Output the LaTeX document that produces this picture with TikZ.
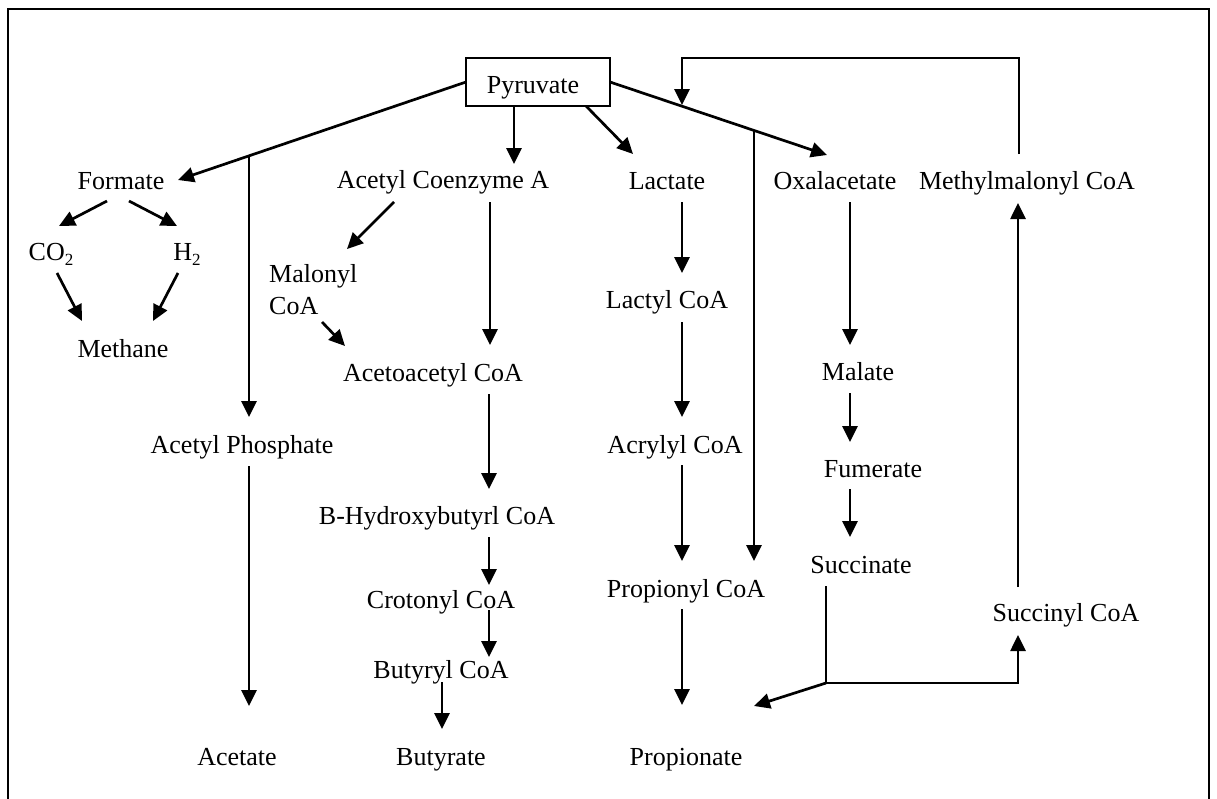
\documentclass[tikz,border=0pt]{standalone}
\usepackage{fontspec}
\setmainfont{Liberation Serif}
\usetikzlibrary{arrows.meta}
\newcommand{\subtwo}{\raisebox{-0.22em}{\fontsize{17}{17}\selectfont 2}}
\begin{document}
\begin{tikzpicture}[x=1pt,y=-1pt,
  lab/.style={inner sep=0pt,anchor=base,font=\fontsize{26}{32}\selectfont},
  con/.style={line width=2.7pt},
  arr/.style={line width=2.7pt,-{Triangle[length=16pt,width=15pt]}},
  frame/.style={line width=2.4pt}]
\useasboundingbox (0,0) rectangle (1217,798);
% outer frame (open at the bottom)
\draw[frame] (8,800) -- (8,9) -- (1209,9) -- (1209,800);
% nodes
\node[draw,line width=2pt,minimum width=144pt,minimum height=48pt,inner sep=0pt,
      font=\fontsize{26}{32}\selectfont] (pyr) at (538,82) {\raisebox{-11pt}[0pt][0pt]{\hspace*{-10pt}Pyruvate}};
\node[lab] (formate) at (121,189) {Formate};
\node[lab] (co2) at (51,260) {CO\subtwo};
\node[lab] (h2) at (187,260) {H\subtwo};
\node[lab] (methane) at (123,357) {Methane};
\node[lab] (acp) at (242,453) {Acetyl Phosphate};
\node[lab] (acetate) at (237,765) {Acetate};
\node[lab] (acoa) at (443,188) {Acetyl Coenzyme A};
\node[lab,anchor=west,align=left,font=\fontsize{26}{32}\selectfont] (malonyl) at (269,290) {Malonyl\\CoA};
\node[lab] (acac) at (433,381) {Acetoacetyl CoA};
\node[lab] (bhb) at (437,524) {B-Hydroxybutyrl CoA};
\node[lab] (crot) at (441,608) {Crotonyl CoA};
\node[lab] (buty) at (441,678) {Butyryl CoA};
\node[lab] (butyrate) at (441,765) {Butyrate};
\node[lab] (lactate) at (667,189) {Lactate};
\node[lab] (lactyl) at (667,308) {Lactyl CoA};
\node[lab] (acryl) at (675,453) {Acrylyl CoA};
\node[lab] (propcoa) at (686,597) {Propionyl CoA};
\node[lab] (propionate) at (686,765) {Propionate};
\node[lab] (oxal) at (835,189) {Oxalacetate};
\node[lab] (malate) at (858,380) {Malate};
\node[lab] (fum) at (873,477) {Fumerate};
\node[lab] (succ) at (861,573) {Succinate};
\node[lab] (succoa) at (1066,621) {Succinyl CoA};
\node[lab] (mmcoa) at (1027,189) {Methylmalonyl CoA};
% coordinates
\coordinate (pl) at (466,82);
\coordinate (pr) at (610,82);
\coordinate (jf) at (249,155);
\coordinate (jp) at (754,130);
\coordinate (fbtip) at (682,105);
\coordinate (js) at (826,683);
% Pyruvate branches
\draw[arr] (pl) -- (178,180);
\draw[arr] (jf) -- (249,417);
\draw[arr] (514,106) -- (514,164);
\draw[arr] (586,106) -- (633,154);
\draw[arr] (pr) -- (827,155);
\draw[arr] (jp) -- (754,561);
\draw[arr] (1019,154) -- (1019,58) -- (682,58) -- (fbtip);
% formate
\draw[arr] (107,201) -- (59,226);
\draw[arr] (129,201) -- (177,226);
\draw[arr] (57,273) -- (82,321);
\draw[arr] (178,273) -- (153,321);
% acetate
\draw[arr] (249,466) -- (249,706);
% butyrate pathway
\draw[arr] (394,202) -- (347,249);
\draw[arr] (490,202) -- (490,345);
\draw[arr] (322,322) -- (345,346);
\draw[arr] (489,394) -- (489,489);
\draw[arr] (489,537) -- (489,585);
\draw[arr] (489,610) -- (489,657);
\draw[arr] (442,682) -- (442,729);
% lactate pathway
\draw[arr] (682,202) -- (682,273);
\draw[arr] (682,322) -- (682,417);
\draw[arr] (682,465) -- (682,561);
\draw[arr] (682,609) -- (682,705);
% succinate pathway
\draw[arr] (850,202) -- (850,345);
\draw[arr] (850,393) -- (850,442);
\draw[arr] (850,489) -- (850,537);
\draw[con] (826,586) -- (js);
\draw[arr] (js) -- (1018,683) -- (1018,635);
\draw[arr] (js) -- (754,706);
\draw[arr] (1018,587) -- (1018,203);
\end{tikzpicture}
\end{document}
